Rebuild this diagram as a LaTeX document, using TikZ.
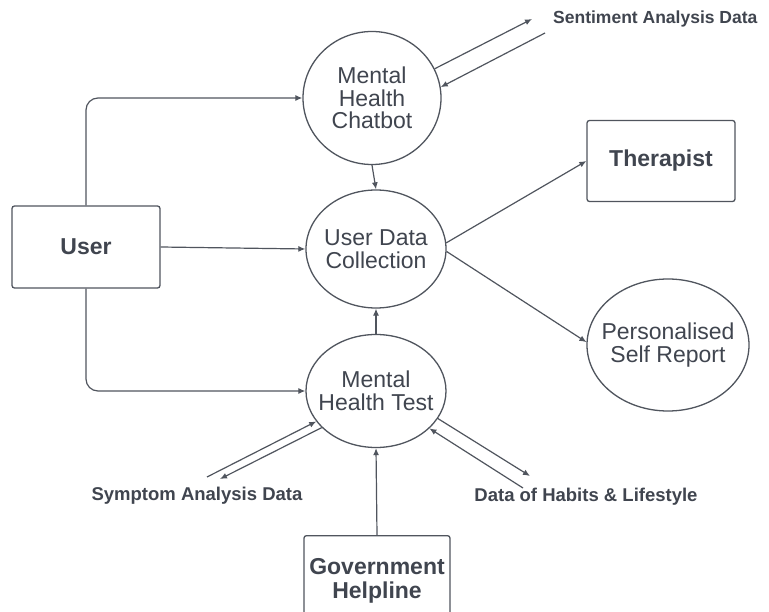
\documentclass[tikz,border=0pt]{standalone}
\usepackage{fontspec}
\setmainfont{Liberation Sans}
\usetikzlibrary{shapes.geometric,arrows.meta}
\definecolor{ink}{HTML}{40454F}
\definecolor{ln}{HTML}{50555E}
\begin{document}
\begin{tikzpicture}[x=1pt,y=-1pt,
  proc/.style={ellipse,draw=ln,line width=1.3pt,inner sep=-25pt,align=center,text=ink,font=\fontsize{23}{22.5}\selectfont},
  ent/.style={rectangle,draw=ln,line width=1.3pt,rounded corners=2.5pt,align=center,text=ink,font=\bfseries\fontsize{23}{24}\selectfont},
  lab/.style={text=ink,font=\bfseries\fontsize{18.5}{20}\selectfont,inner sep=0pt},
  flow/.style={draw=ln,line width=1.2pt,-{Latex[length=7pt,width=6pt]}}]
\useasboundingbox (0,0) rectangle (769,612);
\fill[white] (0,0) rectangle (769,612);
% nodes
\node[proc,minimum width=138,minimum height=133] (chat) at (372,98) {Mental\\Health\\Chatbot};
\node[proc,minimum width=140,minimum height=118] (udc) at (376,249) {User Data\\Collection};
\node[proc,minimum width=140,minimum height=113] (mht) at (376,391) {Mental\\Health Test};
\node[proc,minimum width=162,minimum height=132] (self) at (668,345) {Personalised\\Self Report};
\node[ent,minimum width=148,minimum height=82] (user) at (86,247) {User};
\node[ent,minimum width=148,minimum height=81] (ther) at (661,161) {Therapist};
\node[ent,minimum width=146,minimum height=90,anchor=north] (gov) at (377,535) {Government\\Helpline};
% labels
\node[lab,anchor=west,font=\bfseries\fontsize{17.5}{20}\selectfont] (sent) at (553,19) {Sentiment Analysis Data};
\node[lab] (symp) at (197,496) {Symptom Analysis Data};
\node[lab] (hab) at (586,497) {Data of Habits \& Lifestyle};
\coordinate (s1) at (532,19);
\coordinate (s2) at (545,33);
\coordinate (y1) at (207,477);
\coordinate (y2) at (220,479);
\coordinate (h1) at (530,476);
\coordinate (h2) at (523,488);
% connectors
\draw[flow,rounded corners=12pt] (user.north) |- (chat.west);
\draw[flow] (user.east) -- (udc.west);
\draw[flow,rounded corners=12pt] (user.south) |- (mht.west);
\draw[flow] (chat.south) -- (udc.north);
\draw[flow] (mht.north) -- (udc.south);
\draw[flow] (gov.north) -- (mht.south);
\draw[flow] (udc.5) -- (ther.west);
\draw[flow] (udc.-2) -- (self.178);
\draw[flow] (chat.25) -- (s1);
\draw[flow] (s2) -- (chat.9);
\draw[flow] (y1) -- (mht.207);
\draw[flow] (mht.214) -- (y2);
\draw[flow] (mht.336) -- (h1);
\draw[flow] (h2) -- (mht.325);
\end{tikzpicture}
\end{document}
